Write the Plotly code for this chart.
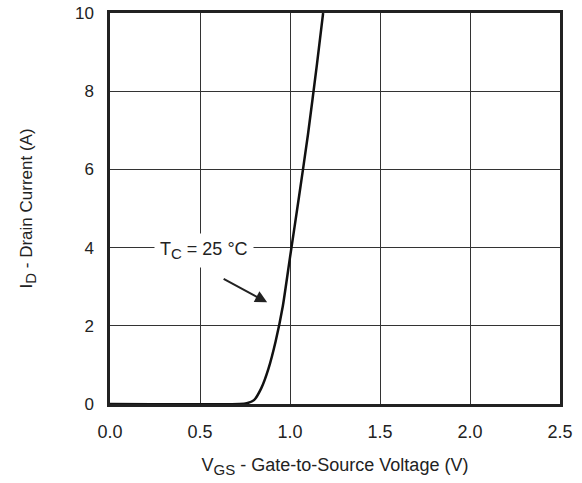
import plotly.graph_objects as go

# Data
vgs = [0.0, 0.72, 0.76, 0.80, 0.84, 0.88, 0.92, 0.96, 1.00, 1.05, 1.10, 1.15, 1.184]
id_a = [0.0, 0.0, 0.02, 0.10, 0.40, 0.90, 1.60, 2.50, 3.75, 5.30, 6.90, 8.70, 10.0]

x_ticks = [0.0, 0.5, 1.0, 1.5, 2.0, 2.5]
x_tick_labels = ["0.0", "0.5", "1.0", "1.5", "2.0", "2.5"]
y_ticks = [0, 2, 4, 6, 8, 10]
y_tick_labels = ["0", "2", "4", "6", "8", "10"]

FONT = "Liberation Sans, Arial, sans-serif"
TXT = "#222222"

fig = go.Figure()
fig.add_trace(go.Scatter(x=vgs, y=id_a, mode="lines",
                         line=dict(color="#111111", width=2.5, shape="spline", smoothing=0.6),
                         showlegend=False, hoverinfo="skip"))

fig.update_layout(
    width=582, height=483,
    margin=dict(l=110, r=22, t=13, b=79),
    paper_bgcolor="white", plot_bgcolor="white",
    font=dict(family=FONT, size=17, color=TXT),
    xaxis=dict(range=[0, 2.5], tickvals=x_ticks, ticktext=x_tick_labels,
               showgrid=True, gridcolor="#333333", gridwidth=1.2,
               showline=True, linecolor="#222222", linewidth=2.5, mirror=True,
               ticks="", zeroline=False, ticklabelstandoff=10, automargin=False,
               tickfont=dict(size=18, color=TXT),
               title=dict(text="V<sub><span style='font-size:15px'>GS</span></sub> - Gate-to-Source Voltage (V)",
                          font=dict(size=18), standoff=18)),
    yaxis=dict(range=[0, 10], tickvals=y_ticks, ticktext=y_tick_labels,
               showgrid=True, gridcolor="#333333", gridwidth=1.2,
               showline=True, linecolor="#222222", linewidth=2.5, mirror=True,
               ticks="", zeroline=False, ticklabelstandoff=10, automargin=False,
               tickfont=dict(size=17, color=TXT),
               title=dict(text="I<sub><span style='font-size:15px'>D</span></sub> - Drain Current (A)",
                          font=dict(size=17), standoff=38)),
)

fig.add_annotation(x=0.52, y=3.92, xref="x", yref="y",
                   text="T<sub><span style='font-size:15px'>C</span></sub> = 25 °C", showarrow=False,
                   font=dict(family=FONT, size=18, color=TXT),
                   bgcolor="white", borderpad=5)

fig.add_annotation(x=0.873, y=2.60, ax=0.623, ay=3.22,
                   xref="x", yref="y", axref="x", ayref="y",
                   text="", showarrow=True, arrowhead=2, arrowsize=1.2,
                   arrowwidth=2, arrowcolor="#222222")

fig.write_html("out.html")
